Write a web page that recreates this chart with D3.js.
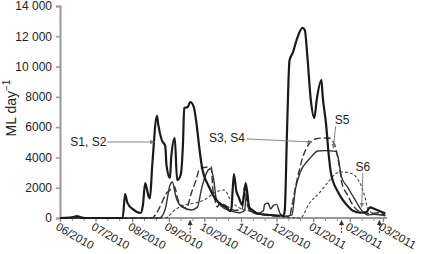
<!DOCTYPE html>
<html><head><meta charset="utf-8">
<script src="https://cdn.jsdelivr.net/npm/d3@7"></script>
<style>
body{margin:0;background:#fff;}
svg{display:block;font-family:"Liberation Sans",Arial,Helvetica,sans-serif;}
</style>
</head><body>
<svg id="chart" width="424" height="254"></svg>
<script>
// ---------- data ----------
const yTickValues = [0, 2000, 4000, 6000, 8000, 10000, 12000, 14000];
const yTickLabels = ["0", "2000", "4000", "6000", "8000", "10 000", "12 000", "14 000"];
const monthTicks = ["2010-06-01","2010-07-01","2010-08-01","2010-09-01","2010-10-01","2010-11-01","2010-12-01","2011-01-01","2011-02-01","2011-03-01"];
const monthLabels = ["06/2010","07/2010","08/2010","09/2010","10/2010","11/2010","12/2010","01/2011","02/2011","03/2011"];
const xDomain = ["2010-06-01", "2011-03-04"];

// S1, S2 (thick solid)
const seriesS1S2 = [
 ["2010-06-01",0],["2010-06-09",30],["2010-06-13",80],["2010-06-15",130],["2010-06-18",60],["2010-06-22",0],
 ["2010-07-24",0],["2010-07-26",1580],["2010-07-28",1000],["2010-08-02",550],["2010-08-08",330],["2010-08-10",800],
 ["2010-08-12",2300],["2010-08-15",1400],["2010-08-16",1300],["2010-08-18",3500],["2010-08-22",6740],["2010-08-23",6200],
 ["2010-08-26",5150],["2010-08-29",4750],["2010-08-30",3500],["2010-09-02",2640],["2010-09-03",4000],["2010-09-06",5280],
 ["2010-09-08",2500],["2010-09-11",2840],["2010-09-13",5000],["2010-09-14",7260],["2010-09-17",7330],["2010-09-19",7660],
 ["2010-09-22",7350],["2010-09-24",6470],["2010-09-27",4490],["2010-09-29",3370],["2010-10-05",2050],["2010-10-11",1190],
 ["2010-10-20",660],["2010-10-23",450],["2010-10-24",700],["2010-10-26",2900],["2010-10-28",1800],["2010-10-30",1390],
 ["2010-11-02",860],["2010-11-03",1200],["2010-11-05",2300],["2010-11-08",700],["2010-11-11",500],["2010-11-15",300],
 ["2010-11-26",200],["2010-12-07",150],["2010-12-08",500],["2010-12-10",6000],["2010-12-12",10400],["2010-12-15",10960],
 ["2010-12-18",11750],["2010-12-23",12550],["2010-12-25",12400],["2010-12-27",10770],["2010-12-30",7800],["2011-01-02",6600],
 ["2011-01-04",7800],["2011-01-08",9100],["2011-01-09",8100],["2011-01-12",6140],["2011-01-14",4300],["2011-01-16",2970],
 ["2011-01-18",2380],["2011-01-22",1720],["2011-01-26",1190],["2011-01-31",730],["2011-02-04",460],["2011-02-10",350],
 ["2011-02-15",400],["2011-02-18",700],["2011-02-22",600],["2011-02-25",500],["2011-03-03",300]
];
// S3, S4 (long dash)
const seriesS3S4 = [
 ["2010-06-01",0],["2010-08-18",0],["2010-08-20",150],["2010-08-26",990],["2010-08-29",1520],["2010-08-31",1720],
 ["2010-09-02",1850],["2010-09-06",2050],["2010-09-08",1390],["2010-09-12",800],["2010-09-16",660],["2010-09-20",1650],
 ["2010-09-24",2500],["2010-09-27",3240],["2010-10-02",3350],["2010-10-07",3370],["2010-10-08",2050],["2010-10-10",1190],
 ["2010-10-12",730],["2010-10-14",990],["2010-10-21",730],["2010-10-27",500],["2010-11-02",600],["2010-11-04",2050],
 ["2010-11-07",700],["2010-11-13",300],["2010-11-26",150],["2010-12-12",100],["2010-12-14",800],["2010-12-18",2380],
 ["2010-12-23",3960],["2010-12-29",4950],["2011-01-03",5220],["2011-01-09",5280],["2011-01-14",5280],["2011-01-17",5150],
 ["2011-01-21",4300],["2011-01-24",2970],["2011-01-25",2400],["2011-01-30",1520],["2011-02-04",800],["2011-02-10",400],
 ["2011-02-18",300],["2011-02-25",350],["2011-03-03",150]
];
// S5 (thin solid)
const seriesS5 = [
 ["2010-06-01",0],["2010-08-24",0],["2010-08-29",600],["2010-09-02",2180],["2010-09-04",2380],["2010-09-07",1400],
 ["2010-09-12",730],["2010-09-20",530],["2010-09-25",700],["2010-09-29",2050],["2010-10-03",3000],["2010-10-06",3250],
 ["2010-10-09",2500],["2010-10-11",1300],["2010-10-15",800],["2010-10-22",500],["2010-10-31",350],["2010-11-04",500],
 ["2010-11-06",1800],["2010-11-08",500],["2010-11-15",300],["2010-11-20",500],["2010-11-21",900],["2010-11-24",990],
 ["2010-11-26",600],["2010-11-28",800],["2010-12-01",900],["2010-12-04",300],["2010-12-08",100],["2010-12-14",200],
 ["2010-12-17",1900],["2010-12-21",3000],["2010-12-28",3830],["2010-12-31",4100],["2011-01-05",4420],["2011-01-11",4450],
 ["2011-01-20",4400],["2011-01-22",4030],["2011-01-25",2700],["2011-01-30",2050],["2011-02-03",1520],["2011-02-07",990],
 ["2011-02-11",500],["2011-02-16",200],["2011-02-22",250],["2011-03-03",150]
];
// S6 (short dash)
const seriesS6 = [
 ["2010-06-01",0],["2010-08-29",0],["2010-09-06",530],["2010-09-14",860],["2010-09-23",990],["2010-10-01",1190],
 ["2010-10-07",1520],["2010-10-11",1720],["2010-10-18",1850],["2010-10-24",1060],["2010-10-30",700],["2010-11-11",400],
 ["2010-11-23",200],["2010-12-08",50],["2010-12-21",0],["2010-12-29",990],["2011-01-07",1720],["2011-01-15",2500],
 ["2011-01-21",2970],["2011-01-25",3040],["2011-02-01",2970],["2011-02-07",2640],["2011-02-11",2050],["2011-02-14",1320],
 ["2011-02-16",660],["2011-02-21",300],["2011-03-03",200]
];

const annLabels = ["S1, S2", "S3, S4", "S5", "S6"];
const annFrom = [["2010-07-11",5020],["2010-11-06",5220],["2011-01-20",6050],["2011-02-12",2970]];
const annTo   = [["2010-08-20",5020],["2010-12-31",5020],["2011-01-18",4600],["2011-02-11",700]];
const eventDates = ["2010-09-19","2011-01-25","2011-02-26"];

// ---------- drawing ----------
const parse = d3.timeParse("%Y-%m-%d");
const svg = d3.select("#chart");
const x = d3.scaleTime().domain(xDomain.map(parse)).range([60, 386.5]);
const y = d3.scaleLinear().domain([0, 14000]).range([218, 6]);

const defs = svg.append("defs");
defs.append("marker").attr("id","arr").attr("viewBox","0 0 6 6").attr("refX",6).attr("refY",3)
  .attr("markerWidth",5).attr("markerHeight",5).attr("orient","auto")
  .append("path").attr("d","M0,0L6,3L0,6z").attr("fill","#777");
defs.append("marker").attr("id","arrK").attr("viewBox","0 0 6 6").attr("refX",6).attr("refY",3)
  .attr("markerWidth",5).attr("markerHeight",5).attr("orient","auto")
  .append("path").attr("d","M0,0L6,3L0,6z").attr("fill","#333");

// y axis
const yAxis = svg.append("g").attr("transform","translate(60,0)")
  .call(d3.axisLeft(y).tickValues(yTickValues).tickFormat((d,i)=>yTickLabels[i]).tickSize(4).tickPadding(4));
yAxis.select(".domain").attr("stroke","#999").attr("stroke-width",2);
yAxis.selectAll(".tick line").attr("stroke","#999").attr("stroke-width",1.5);
yAxis.selectAll(".tick text").attr("font-size",12).attr("fill","#222")
  .attr("font-family","'Liberation Sans',Arial,sans-serif");

// x axis: minor ticks (11th, 21st of month)
const minorTicks = d3.timeDay.range(parse(xDomain[0]), parse(xDomain[1]))
  .filter(d => d.getDate() === 11 || d.getDate() === 21);
const xAxisMinor = svg.append("g").attr("transform","translate(0,218)")
  .call(d3.axisBottom(x).tickValues(minorTicks).tickSize(3).tickFormat(""));
xAxisMinor.select(".domain").remove();
xAxisMinor.selectAll(".tick line").attr("stroke","#888");

const xAxis = svg.append("g").attr("transform","translate(0,218)")
  .call(d3.axisBottom(x).tickValues(monthTicks.map(parse)).tickSize(4).tickFormat(""));
xAxis.select(".domain").attr("stroke","#999").attr("stroke-width",2).attr("d","M60,0H387");
xAxis.selectAll(".tick line").attr("stroke","#888").attr("stroke-width",1.3);

svg.append("g").selectAll("text").data(monthTicks).join("text")
  .attr("transform", d => `translate(${x(parse(d)) - 5},229) rotate(30)`)
  .attr("font-size",11.5).attr("fill","#222")
  .text((d,i) => monthLabels[i]);

// y label
const yl = svg.append("text").attr("transform","translate(16,108) rotate(-90)")
  .attr("text-anchor","middle").attr("font-size",14).attr("fill","#222");
yl.append("tspan").text("ML day");
yl.append("tspan").attr("font-size",10).attr("dy",-6).text("\u22121");

// series
const line = d3.line().x(d => x(parse(d[0]))).y(d => y(d[1])).curve(d3.curveMonotoneX);
const seriesList = [
  {data: seriesS6,  w: 1.1, dash: "3,2",  c: "#444"},
  {data: seriesS5,  w: 1.4, dash: null,   c: "#333"},
  {data: seriesS3S4,w: 1.4, dash: "7,3",  c: "#333"},
  {data: seriesS1S2,w: 2.2, dash: null,   c: "#1a1a1a"}
];
svg.append("g").selectAll("path").data(seriesList).join("path")
  .attr("d", s => line(s.data)).attr("fill","none")
  .attr("stroke", s => s.c).attr("stroke-width", s => s.w)
  .attr("stroke-dasharray", s => s.dash).attr("stroke-linejoin","round");

// annotations
const ann = svg.append("g");
const textPos = [
  {anchor:"end",   dx:-1, dy:4.5},
  {anchor:"end",   dx:-2, dy:3},
  {anchor:"start", dx:-1, dy:-2},
  {anchor:"middle",dx:0,  dy:-2}
];
annLabels.forEach((lab, i) => {
  const fx = x(parse(annFrom[i][0])), fy = y(annFrom[i][1]);
  const tx = x(parse(annTo[i][0])), ty = y(annTo[i][1]);
  ann.append("line").attr("x1",fx).attr("y1",fy).attr("x2",tx).attr("y2",ty)
    .attr("stroke","#777").attr("stroke-width",0.9).attr("marker-end","url(#arr)");
  ann.append("text").attr("x", fx + textPos[i].dx).attr("y", fy + textPos[i].dy)
    .attr("text-anchor", textPos[i].anchor).attr("font-size",12).attr("fill","#222").text(lab);
});

// event arrows below the axis
svg.append("g").selectAll("line").data(eventDates).join("line")
  .attr("x1", d => x(parse(d))).attr("x2", d => x(parse(d)))
  .attr("y1", 233).attr("y2", 220)
  .attr("stroke","#333").attr("stroke-width",1).attr("stroke-dasharray","2,1.5")
  .attr("marker-end","url(#arrK)");
</script>
</body></html>
